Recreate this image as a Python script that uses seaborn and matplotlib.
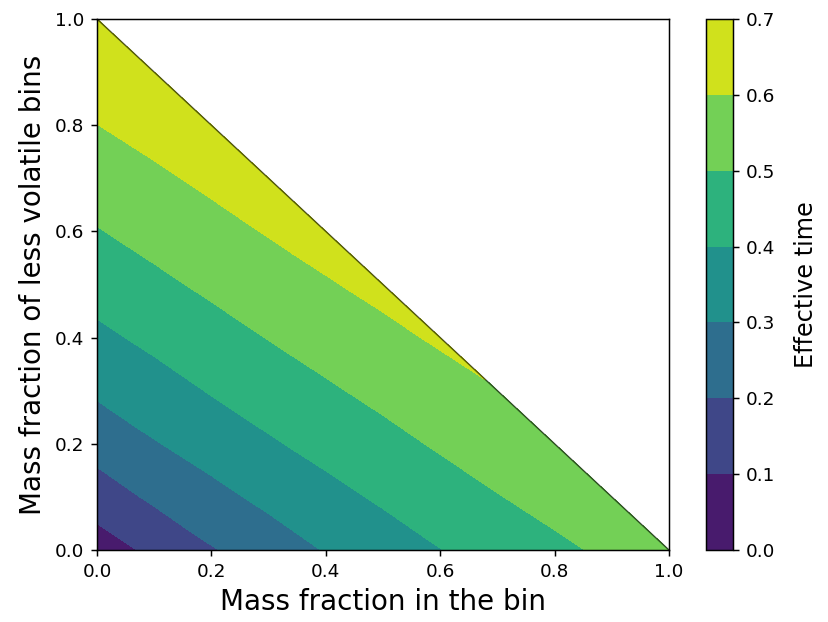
import matplotlib
matplotlib.use("Agg")
import matplotlib.pyplot as plt
import matplotlib.tri as mtri
import seaborn as sns

sns.set_style("ticks", {"axes.edgecolor": "black", "xtick.color": "black",
                        "ytick.color": "black", "text.color": "black",
                        "axes.labelcolor": "black"})

# grid
mass_in_bin = [0.0, 0.1, 0.2, 0.3, 0.4, 0.5, 0.6, 0.7, 0.8, 0.9, 1.0]
mass_less_volatile = [0.0, 0.1, 0.2, 0.3, 0.4, 0.5, 0.6, 0.7, 0.8, 0.9, 1.0]

# effective time, one row per mass_less_volatile value, running along mass_in_bin up to x + y = 1
effective_time = [
    [0.050, 0.122, 0.193, 0.250, 0.305, 0.351, 0.398, 0.439, 0.480, 0.518, 0.555],
    [0.150, 0.217, 0.272, 0.323, 0.370, 0.414, 0.455, 0.496, 0.533, 0.570],
    [0.239, 0.294, 0.342, 0.389, 0.431, 0.471, 0.511, 0.548, 0.584],
    [0.314, 0.360, 0.406, 0.447, 0.487, 0.525, 0.562, 0.597],
    [0.379, 0.422, 0.463, 0.503, 0.540, 0.577, 0.612],
    [0.439, 0.479, 0.518, 0.555, 0.592, 0.625],
    [0.495, 0.533, 0.570, 0.606, 0.638],
    [0.547, 0.584, 0.619, 0.651],
    [0.599, 0.632, 0.664],
    [0.645, 0.677],
    [0.690],
]

levels = [0.0, 0.1, 0.2, 0.3, 0.4, 0.5, 0.6, 0.7]

# flatten the triangular grid and keep an index for each node
xs, ys, zs, idx = [], [], [], {}
for j, (y, row) in enumerate(zip(mass_less_volatile, effective_time)):
    for i, (x, z) in enumerate(zip(mass_in_bin, row)):
        idx[(i, j)] = len(xs)
        xs.append(x)
        ys.append(y)
        zs.append(z)

# split every cell along its anti-diagonal
triangles = []
for (i, j) in idx:
    if (i + 1, j) in idx and (i, j + 1) in idx:
        triangles.append([idx[(i, j)], idx[(i + 1, j)], idx[(i, j + 1)]])
    if (i + 1, j + 1) in idx:
        triangles.append([idx[(i + 1, j)], idx[(i + 1, j + 1)], idx[(i, j + 1)]])
tri = mtri.Triangulation(xs, ys, triangles)

fig = plt.figure(figsize=(828 / 133, 622 / 133), dpi=133)
ax = fig.add_axes([97 / 828, 72 / 622, 572 / 828, 531 / 622])
cax = fig.add_axes([706 / 828, 72 / 622, 27 / 828, 531 / 622])

cs = ax.tricontourf(tri, zs, levels=levels, cmap="viridis")

# outer edge of the domain (last point of each row)
edge_x = [mass_in_bin[len(row) - 1] for row in effective_time]
ax.plot(edge_x, mass_less_volatile, color="black", lw=0.8, alpha=0.6)

ax.set_xlim(0, 1)
ax.set_ylim(0, 1)
ax.set_xlabel("Mass fraction in the bin", fontsize=15)
ax.set_ylabel("Mass fraction of less volatile bins", fontsize=15)
ax.tick_params(labelsize=10)
for s in ax.spines.values():
    s.set_visible(True)
    s.set_linewidth(0.8)

cb = fig.colorbar(cs, cax=cax)
cb.set_label("Effective time", fontsize=13, labelpad=10)
cb.ax.tick_params(labelsize=10)
cb.outline.set_linewidth(0.8)

fig.savefig("out.png", dpi=133)
